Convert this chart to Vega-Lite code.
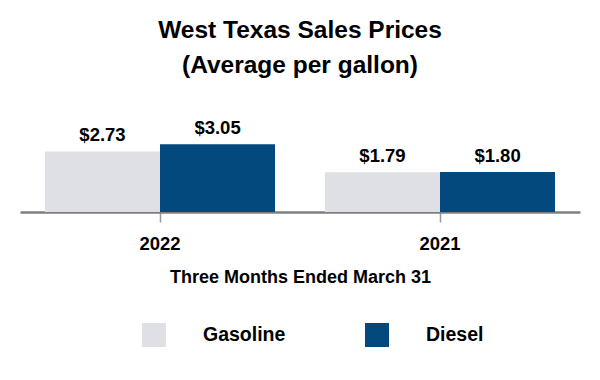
{
  "$schema": "https://vega.github.io/schema/vega-lite/v6.json",
  "autosize": {"type": "none"},
  "width": 560,
  "height": 111,
  "padding": {"left": 20, "right": 20, "top": 101, "bottom": 168},
  "background": "white",
  "title": {
    "text": ["West Texas Sales Prices", "(Average per gallon)"],
    "font": "Liberation Sans",
    "fontSize": 24.5,
    "fontWeight": "bold",
    "lineHeight": 35,
    "color": "#000000",
    "anchor": "middle",
    "frame": "group",
    "offset": 23
  },
  "data": {
    "values": [
      {"period": "2022", "fuel": "Gasoline", "price": 2.73},
      {"period": "2022", "fuel": "Diesel", "price": 3.05},
      {"period": "2021", "fuel": "Gasoline", "price": 1.79},
      {"period": "2021", "fuel": "Diesel", "price": 1.80}
    ]
  },
  "encoding": {
    "x": {
      "field": "period",
      "type": "nominal",
      "sort": ["2022", "2021"],
      "scale": {"paddingInner": 0, "paddingOuter": 0},
      "axis": {
        "title": "Three Months Ended March 31",
        "labelAngle": 0,
        "labelFont": "Liberation Sans",
        "labelFontSize": 18.5,
        "labelFontWeight": "bold",
        "labelColor": "#000000",
        "labelPadding": 12,
        "titleFont": "Liberation Sans",
        "titleFontSize": 18,
        "titleFontWeight": "bold",
        "titleColor": "#000000",
        "titlePadding": 16,
        "domainColor": "#7f7f7f",
        "domainWidth": 2.5,
        "tickColor": "#999999",
        "tickWidth": 1.5,
        "tickSize": 10
      }
    },
    "xOffset": {
      "field": "fuel",
      "type": "nominal",
      "sort": ["Gasoline", "Diesel"],
      "scale": {"paddingOuter": 0.217, "paddingInner": 0}
    },
    "y": {
      "field": "price",
      "type": "quantitative",
      "scale": {"domain": [0, 5], "nice": false},
      "axis": null
    }
  },
  "layer": [
    {
      "mark": {"type": "bar"},
      "encoding": {
        "color": {
          "field": "fuel",
          "type": "nominal",
          "sort": ["Gasoline", "Diesel"],
          "scale": {"domain": ["Gasoline", "Diesel"], "range": ["#dfe0e5", "#03497d"]},
          "legend": {
            "title": null,
            "orient": "none",
            "direction": "horizontal",
            "legendX": 122,
            "legendY": 222,
            "symbolType": "square",
            "symbolSize": 576,
            "symbolStrokeWidth": 0,
            "symbolOpacity": 1,
            "labelOffset": 37,
            "columnPadding": 79,
            "labelFont": "Liberation Sans",
            "labelFontSize": 19.5,
            "labelFontWeight": "bold",
            "labelColor": "#000000",
            "labelLimit": 300
          }
        }
      }
    },
    {
      "mark": {
        "type": "text",
        "baseline": "alphabetic",
        "dy": -10,
        "font": "Liberation Sans",
        "fontSize": 18.5,
        "fontWeight": "bold",
        "color": "#000000"
      },
      "encoding": {
        "text": {"field": "price", "type": "quantitative", "format": "$.2f"}
      }
    }
  ],
  "config": {
    "view": {"stroke": null},
    "axis": {"grid": false}
  }
}
